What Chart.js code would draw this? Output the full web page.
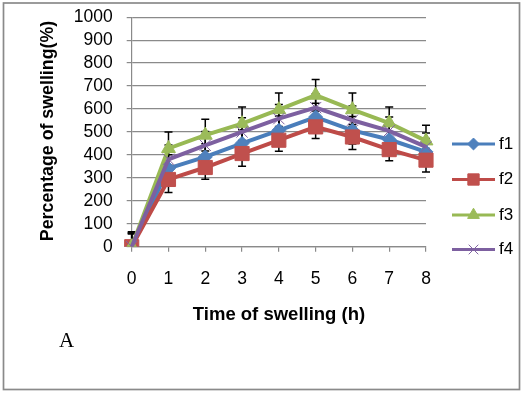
<!DOCTYPE html>
<html>
<head>
<meta charset="utf-8">
<script src="https://cdn.jsdelivr.net/npm/chart.js@4"></script>
<style>
  html, body { margin: 0; padding: 0; background: #fff; }
  #wrap { width: 523px; height: 393px; }
</style>
</head>
<body>
<div id="wrap"><canvas id="chart" width="523" height="393"></canvas></div>
<script>
// data
const hours = ['0', '1', '2', '3', '4', '5', '6', '7', '8'];
const f1 = [0, 341, 391, 450, 507, 565, 507, 467, 413];
const f2 = [0, 293, 345, 406, 464, 522, 478, 423, 377];
const f3 = [0, 428, 486, 536, 597, 660, 597, 539, 461];
const f4 = [0, 381, 442, 500, 558, 606, 551, 505, 435];
// error bar half-lengths
const f1Err = [60, 60, 58, 60, 62, 60, 60, 58, 58];
const f2Err = [55, 57, 51, 55, 48, 51, 55, 49, 51];
const f3Err = [65, 72, 69, 73, 73, 69, 73, 70, 68];
const f4Err = [60, 62, 60, 62, 62, 60, 62, 60, 60];
const yTicks = [0, 100, 200, 300, 400, 500, 600, 700, 800, 900, 1000];

const FONT = '"Liberation Sans", Arial, sans-serif';

const series = [
  { label: 'f1', data: f1, err: f1Err, line: '#4A7EBB', fill: '#4F81BD', style: 'rectRot', r: 7, order: 4 },
  { label: 'f2', data: f2, err: f2Err, line: '#BE4B48', fill: '#C0504D', style: 'rect', r: 10, order: 3 },
  { label: 'f3', data: f3, err: f3Err, line: '#98B954', fill: '#9BBB59', style: 'triangle', r: 8, order: 2 },
  { label: 'f4', data: f4, err: f4Err, line: '#7D60A0', fill: '#8064A2', style: 'crossRot', r: 8, order: 1 }
];

const extras = {
  id: 'extras',
  beforeDatasetsDraw(chart) {
    const ctx = chart.ctx;
    const x = chart.scales.x, y = chart.scales.y;
    ctx.save();
    ctx.strokeStyle = '#000';
    ctx.lineWidth = 1.5;
    series.forEach(function (s) {
      s.data.forEach(function (v, i) {
        const px = x.getPixelForValue(i);
        const top = y.getPixelForValue(v + s.err[i]);
        const bot = y.getPixelForValue(Math.max(v - s.err[i], 0));
        ctx.beginPath();
        ctx.moveTo(px, top); ctx.lineTo(px, bot);
        ctx.moveTo(px - 4, top); ctx.lineTo(px + 4, top);
        if (v - s.err[i] > 0) { ctx.moveTo(px - 4, bot); ctx.lineTo(px + 4, bot); }
        ctx.stroke();
      });
    });
    ctx.restore();
  },
  afterDraw(chart) {
    const ctx = chart.ctx;
    ctx.save();
    // outer frame
    ctx.strokeStyle = '#8a8a8a';
    ctx.lineWidth = 1.7;
    ctx.strokeRect(3.5, 3, 516, 386.5);

    ctx.fillStyle = '#000';
    // axis titles
    ctx.textAlign = 'center';
    ctx.textBaseline = 'middle';
    ctx.font = 'bold 18.5px ' + FONT;
    ctx.fillText('Time of swelling (h)', 279, 314.5);
    ctx.font = 'bold 17.8px ' + FONT;
    ctx.save();
    ctx.translate(48, 131);
    ctx.rotate(-Math.PI / 2);
    ctx.fillText('Percentage of swelling(%)', 0, 0);
    ctx.restore();

    // panel letter
    ctx.font = '21px "Liberation Serif", "Times New Roman", serif';
    ctx.textAlign = 'left';
    ctx.textBaseline = 'alphabetic';
    ctx.fillText('A', 59, 347);

    // legend
    const rows = [144, 179.5, 215, 249.5];
    series.forEach(function (s, i) {
      const ly = rows[i];
      ctx.strokeStyle = s.line;
      ctx.lineWidth = 3;
      ctx.beginPath();
      ctx.moveTo(452, ly); ctx.lineTo(495, ly);
      ctx.stroke();
      ctx.fillStyle = s.fill;
      ctx.strokeStyle = s.fill;
      ctx.lineWidth = 1;
      Chart.helpers.drawPoint(ctx, { pointStyle: s.style, radius: s.style === 'rect' ? 8 : s.r * 0.85, borderWidth: 1 }, 473.5, ly);
      ctx.fillStyle = '#000';
      ctx.font = '17px ' + FONT;
      ctx.textBaseline = 'middle';
      ctx.fillText(s.label, 499, ly);
    });
    ctx.restore();
  }
};

new Chart(document.getElementById('chart'), {
  type: 'line',
  data: {
    labels: hours,
    datasets: series.map(function (s) {
      return {
        label: s.label,
        data: s.data,
        order: s.order,
        borderColor: s.line,
        borderWidth: 4,
        tension: 0,
        pointStyle: s.style,
        pointRadius: s.r,
        pointBackgroundColor: s.fill,
        pointBorderColor: s.fill,
        pointBorderWidth: 1
      };
    })
  },
  options: {
    responsive: false,
    devicePixelRatio: 1,
    animation: false,
    layout: { padding: { left: 0, top: 17.2, right: 97, bottom: 0 } },
    plugins: { legend: { display: false }, tooltip: { enabled: false } },
    scales: {
      x: {
        offset: false,
        afterFit: function (scale) {
          scale.height = 393 - 246.7;
          scale.paddingLeft = 0;
          scale.paddingRight = 0;
        },
        grid: { drawOnChartArea: false, drawTicks: true, tickLength: 5, color: '#8a8a8a', lineWidth: 1.2 },
        border: { color: '#8a8a8a', width: 1.2 },
        ticks: { color: '#000', font: { family: FONT, size: 17.5 }, padding: 17, maxRotation: 0 }
      },
      y: {
        min: 0,
        max: 1000,
        afterFit: function (scale) {
          scale.width = 131.7;
          scale.paddingTop = 0;
          scale.paddingBottom = 0;
        },
        afterBuildTicks: function (scale) { scale.ticks = yTicks.map(function (v) { return { value: v }; }); },
        grid: { color: '#8a8a8a', lineWidth: 1.2, drawTicks: true, tickLength: 5 },
        border: { color: '#8a8a8a', width: 1.2 },
        ticks: {
          color: '#000', font: { family: FONT, size: 17.5 }, padding: 14, autoSkip: false,
          callback: function (v) { return String(v); }
        }
      }
    }
  },
  plugins: [extras]
});
</script>
</body>
</html>
